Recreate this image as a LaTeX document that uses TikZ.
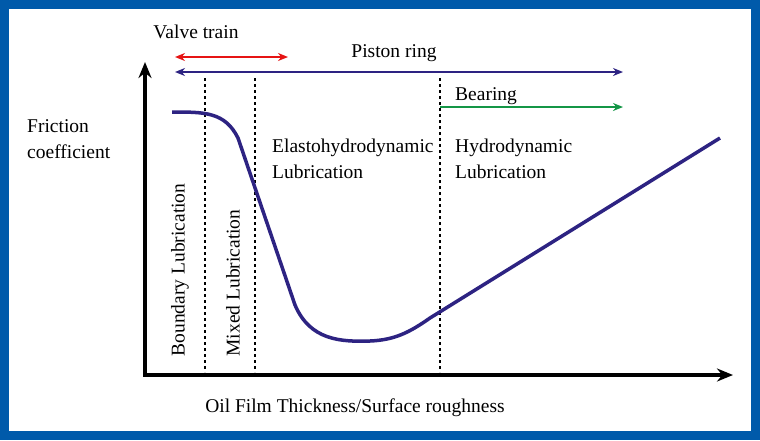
\documentclass[tikz,border=0pt]{standalone}
\usepackage{fontspec}
\setmainfont{Liberation Serif}
\usetikzlibrary{arrows.meta}
\definecolor{frameblue}{RGB}{0,90,170}
\definecolor{curveblue}{RGB}{45,35,130}
\definecolor{arrred}{RGB}{230,20,20}
\definecolor{arrgreen}{RGB}{20,150,70}
\tikzset{lbl/.style={font=\fontsize{19.5}{22}\selectfont, inner sep=0pt},
 dline/.style={dashed, line width=1.2pt},
 rng/.style={line width=1.8pt, {Stealth[length=10pt,width=8pt]}-{Stealth[length=10pt,width=8pt]}}}
\begin{document}
\begin{tikzpicture}[x=1pt,y=-1pt]
\fill[frameblue] (0,0) rectangle (760,440);
\fill[white] (9,9) rectangle (751,431);
\coordinate (o) at (145,375);
\coordinate (yt) at (145,62);
\coordinate (xt) at (733,375);
\draw[line width=4.5pt,-{Stealth[length=16pt,width=13pt]}] ([yshift=2pt]o) -- (yt);
\draw[line width=4.5pt,-{Stealth[length=16pt,width=13pt]}] ([xshift=-2pt]o) -- (xt);
\foreach \x/\n in {205/a,255/b,440/c}{
  \coordinate (\n1) at (\x,78); \coordinate (\n2) at (\x,372);
  \draw[dline] (\n1) -- (\n2);}
\draw[curveblue, line width=3.5pt] (172,112) .. controls (205,112) and (225,112) .. (238,138)
 -- (295,305) .. controls (310,340) and (340,342) .. (370,341)
 .. controls (395,340) and (410,332) .. (430,318) -- (720,138);
\coordinate (v1) at (175,57); \coordinate (v2) at (288,57);
\draw[rng, arrred] (v1) -- (v2);
\coordinate (p1) at (175,72); \coordinate (p2) at (623,72);
\draw[rng, curveblue] (p1) -- (p2);
\coordinate (b1) at (440,107); \coordinate (b2) at (623,107);
\draw[line width=1.8pt, arrgreen, -{Stealth[length=10pt,width=8pt]}] (b1) -- (b2);
\node[lbl] (tv) at (196,32) {Valve train};
\node[lbl] (tp) at (394,53) {Piston ring};
\node[lbl, anchor=west] (tb) at (455,96) {Bearing};
\node[lbl, anchor=north west, align=left] (tf) at (27,119) {Friction\\[4pt]coefficient};
\node[lbl, anchor=north west, align=left] (te) at (272,139) {Elastohydrodynamic\\[4pt]Lubrication};
\node[lbl, anchor=north west, align=left] (th) at (455,139) {Hydrodynamic\\[4pt]Lubrication};
\node[lbl, rotate=90] (tbl) at (180,270) {Boundary Lubrication};
\node[lbl, rotate=90] (tml) at (233,283) {Mixed Lubrication};
\node[lbl] (tx) at (355,408) {Oil Film Thickness/Surface roughness};
\end{tikzpicture}
\end{document}
